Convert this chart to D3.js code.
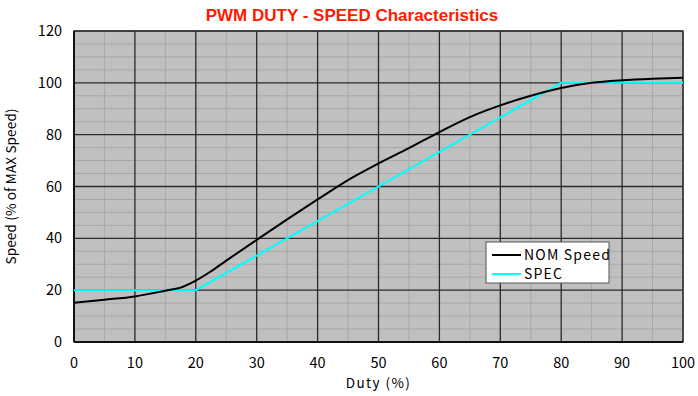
<!DOCTYPE html>
<html>
<head>
<meta charset="utf-8">
<script src="https://cdn.jsdelivr.net/npm/d3@7"></script>
<style>
  body { margin: 0; background: #fff; }
  svg { display: block; }
  .tick-label { font-family: "Noto Sans CJK JP", "DejaVu Sans", sans-serif; font-size: 14.5px; fill: #000; }
  .axis-title { font-family: "Noto Sans CJK JP", "DejaVu Sans", sans-serif; font-size: 13.5px; fill: #000; }
</style>
</head>
<body>
<div id="chart"></div>
<script>
const title = 'PWM DUTY - SPEED Characteristics';
const xTitle = 'Duty (%)';
const yTitle = 'Speed (% of MAX Speed)';

const xTicks = [0, 10, 20, 30, 40, 50, 60, 70, 80, 90, 100];
const yTicks = [0, 20, 40, 60, 80, 100, 120];

const nomDuty = [0, 5, 10, 15, 17.5, 20, 22.5, 25, 30, 35, 40, 45, 50, 55, 60, 65, 70, 75, 80, 85, 90, 95, 100];
const nomSpeed = [15.1, 16.3, 17.6, 19.8, 21, 23.7, 27.3, 31.4, 39.4, 47.3, 55, 62.5, 68.9, 74.8, 81, 86.8, 91.3, 95, 98, 100, 101, 101.6, 102];

const specDuty = [0, 20, 80, 100];
const specSpeed = [20, 20, 100, 100];

const seriesNames = ['NOM Speed', 'SPEC'];
const seriesColors = ['#000000', '#00ffff'];

const width = 698;
const height = 396;
const margin = { top: 31, right: 15, bottom: 54, left: 74 };

const svg = d3.select('#chart')
  .append('svg')
  .attr('width', width)
  .attr('height', height);

const x = d3.scaleLinear().domain([0, 100]).range([margin.left, width - margin.right]);
const y = d3.scaleLinear().domain([0, 120]).range([height - margin.bottom, margin.top]);

// plot background
svg.append('rect')
  .attr('x', x(0))
  .attr('y', y(120))
  .attr('width', x(100) - x(0))
  .attr('height', y(0) - y(120))
  .attr('fill', '#c0c0c0');

// minor grid
const minorX = d3.range(5, 100, 10);
const minorY = d3.range(5, 120, 5).filter(v => v % 20 !== 0);

svg.append('g')
  .selectAll('line')
  .data(minorX)
  .join('line')
  .attr('x1', d => x(d)).attr('x2', d => x(d))
  .attr('y1', y(0)).attr('y2', y(120))
  .attr('stroke', '#a8a8a8')
  .attr('stroke-width', 1);

svg.append('g')
  .selectAll('line')
  .data(minorY)
  .join('line')
  .attr('x1', x(0)).attr('x2', x(100))
  .attr('y1', d => y(d)).attr('y2', d => y(d))
  .attr('stroke', '#a8a8a8')
  .attr('stroke-width', 1);

// major grid
svg.append('g')
  .selectAll('line')
  .data(xTicks)
  .join('line')
  .attr('x1', d => x(d)).attr('x2', d => x(d))
  .attr('y1', y(0)).attr('y2', y(120))
  .attr('stroke', '#2a2a2a')
  .attr('stroke-width', 1.3);

svg.append('g')
  .selectAll('line')
  .data(yTicks)
  .join('line')
  .attr('x1', x(0)).attr('x2', x(100))
  .attr('y1', d => y(d)).attr('y2', d => y(d))
  .attr('stroke', '#2a2a2a')
  .attr('stroke-width', 1.3);

// frame
svg.append('rect')
  .attr('x', x(0))
  .attr('y', y(120))
  .attr('width', x(100) - x(0))
  .attr('height', y(0) - y(120))
  .attr('fill', 'none')
  .attr('stroke', '#333')
  .attr('stroke-width', 1.2);

svg.append('line')
  .attr('x1', x(0)).attr('x2', x(100))
  .attr('y1', y(0)).attr('y2', y(0))
  .attr('stroke', '#111').attr('stroke-width', 2);

svg.append('line')
  .attr('x1', x(0)).attr('x2', x(0))
  .attr('y1', y(0)).attr('y2', y(120))
  .attr('stroke', '#111').attr('stroke-width', 2);

// tick labels
svg.append('g')
  .selectAll('text')
  .data(yTicks)
  .join('text')
  .attr('class', 'tick-label')
  .attr('x', x(0) - 12)
  .attr('y', d => y(d) + 5)
  .attr('text-anchor', 'end')
  .text(d => d);

svg.append('g')
  .selectAll('text')
  .data(xTicks)
  .join('text')
  .attr('class', 'tick-label')
  .attr('x', d => x(d))
  .attr('y', y(0) + 26)
  .attr('text-anchor', 'middle')
  .text(d => d);

// axis titles
svg.append('text')
  .attr('class', 'axis-title')
  .attr('x', x(50))
  .attr('y', height - 8)
  .attr('text-anchor', 'middle')
  .attr('letter-spacing', 1.4)
  .text(xTitle);

svg.append('text')
  .attr('class', 'axis-title')
  .attr('transform', `translate(16, ${(y(0) + y(120)) / 2}) rotate(-90)`)
  .attr('text-anchor', 'middle')
  .attr('font-size', 13)
  .attr('textLength', 156)
  .attr('lengthAdjust', 'spacing')
  .text(yTitle);

// chart title
svg.append('text')
  .attr('x', 352)
  .attr('y', 21)
  .attr('text-anchor', 'middle')
  .attr('font-family', '"Liberation Sans", Arial, sans-serif')
  .attr('font-weight', 'bold')
  .attr('font-size', 17)
  .attr('fill', '#ff1a00')
  .text(title);

// series
const line = d3.line()
  .x(d => x(d[0]))
  .y(d => y(d[1]));

const nom = nomDuty.map((d, i) => [d, nomSpeed[i]]);
const spec = specDuty.map((d, i) => [d, specSpeed[i]]);

svg.append('path')
  .datum(spec)
  .attr('d', line)
  .attr('fill', 'none')
  .attr('stroke', seriesColors[1])
  .attr('stroke-width', 2);

svg.append('path')
  .datum(nom)
  .attr('d', line.curve(d3.curveMonotoneX))
  .attr('fill', 'none')
  .attr('stroke', seriesColors[0])
  .attr('stroke-width', 2);

// legend
const legend = svg.append('g').attr('transform', 'translate(486, 242)');

legend.append('rect')
  .attr('width', 123)
  .attr('height', 41)
  .attr('fill', '#fff')
  .attr('stroke', '#555')
  .attr('stroke-width', 1);

const item = legend.selectAll('g')
  .data(seriesNames)
  .join('g')
  .attr('transform', (d, i) => `translate(0, ${13 + i * 19})`);

item.append('line')
  .attr('x1', 6).attr('x2', 35)
  .attr('y1', 0).attr('y2', 0)
  .attr('stroke', (d, i) => seriesColors[i])
  .attr('stroke-width', 2);

item.append('text')
  .attr('x', 38)
  .attr('y', 5)
  .attr('font-family', '"Noto Sans CJK JP", "DejaVu Sans", sans-serif')
  .attr('font-size', 14)
  .attr('letter-spacing', 1.2)
  .text(d => d);
</script>
</body>
</html>
